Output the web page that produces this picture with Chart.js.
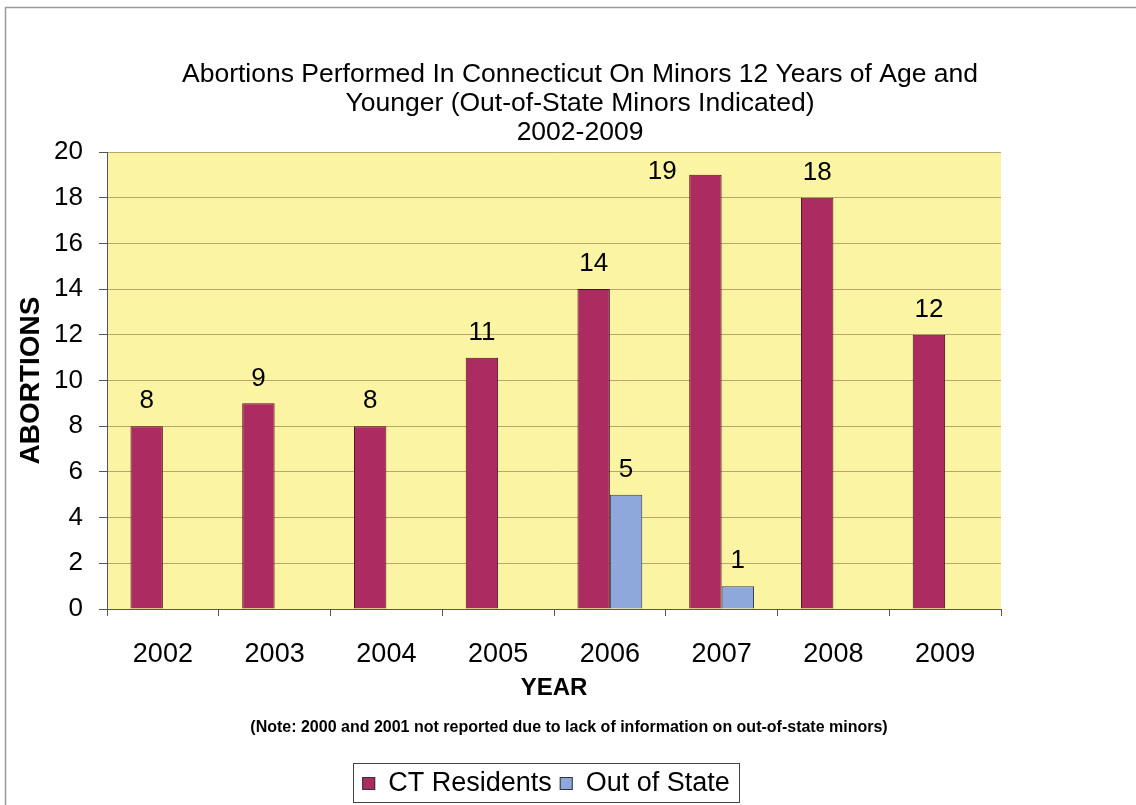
<!DOCTYPE html>
<html>
<head>
<meta charset="utf-8">
<script src="https://cdn.jsdelivr.net/npm/chart.js@4.4.0/dist/chart.umd.min.js"></script>
<style>
  html, body { margin: 0; padding: 0; background: #fff; }
  #wrap { width: 1136px; height: 805px; position: relative; }
</style>
</head>
<body>
<div id="wrap"><canvas id="chart" width="1136" height="805"></canvas></div>
<script>
const years = ["2002", "2003", "2004", "2005", "2006", "2007", "2008", "2009"];
const ctResidents = [8, 9, 8, 11, 14, 19, 18, 12];
const outOfState = [0, 0, 0, 0, 5, 1, 0, 0];
const seriesNames = ["CT Residents", "Out of State"];
const titleLines = [
  "Abortions Performed In Connecticut On Minors 12 Years of Age and",
  "Younger (Out-of-State Minors Indicated)",
  "2002-2009"
];
const noteText = "(Note: 2000 and 2001 not reported due to lack of information on out-of-state minors)";

const FONT = "'Liberation Sans', Arial, Helvetica, sans-serif";
const maroon = "#AC2B60";
const blue = "#8EA8DC";

const decor = {
  id: "decor",
  beforeDraw(chart) {
    const { ctx, chartArea: a } = chart;
    ctx.save();
    ctx.fillStyle = "#FBF4A2";
    ctx.fillRect(a.left, a.top, a.right - a.left, a.bottom - a.top);
    ctx.restore();
  },
  afterDatasetsDraw(chart) {
    const ctx = chart.ctx;
    const top = chart.chartArea.top;
    ctx.save();
    ctx.font = "26px " + FONT;
    ctx.fillStyle = "#000";
    ctx.textAlign = "center";
    ctx.textBaseline = "middle";
    chart.data.datasets.forEach((ds, i) => {
      chart.getDatasetMeta(i).data.forEach((bar, j) => {
        if (!(ds.data[j] > 0)) return;
        let lx = bar.x, ly = bar.y - 25;
        // no room above the bar: put the label beside it, like the original
        if (ly < top + 12) { ly = top + 20; lx = bar.x - bar.width / 2 - 27; }
        ctx.fillText(String(ds.data[j]), lx, ly);
      });
    });
    ctx.restore();
  },
  afterDraw(chart) {
    const ctx = chart.ctx;
    ctx.save();
    // outer frame
    ctx.strokeStyle = "#9a9a9a";
    ctx.lineWidth = 1.5;
    ctx.beginPath();
    ctx.moveTo(5.5, 805);
    ctx.lineTo(5.5, 7.5);
    ctx.lineTo(1136, 7.5);
    ctx.stroke();

    // title
    ctx.fillStyle = "#000";
    ctx.textAlign = "center";
    ctx.textBaseline = "middle";
    ctx.font = "26.5px " + FONT;
    titleLines.forEach((t, i) => ctx.fillText(t, 580, 75 + i * 29));

    // note
    ctx.font = "bold 16px " + FONT;
    ctx.fillText(noteText, 569, 728);

    // legend
    ctx.font = "27px " + FONT;
    const colors = [maroon, blue];
    const sq = 13, gap = 13, itemGap = 8, padX = 9;
    let total = padX * 2;
    seriesNames.forEach((n, i) => {
      total += sq + gap + ctx.measureText(n).width + (i ? 0 : itemGap);
    });
    let x = 546 - total / 2;
    const top = 763, h = 39, cy = top + h / 2 + 1;
    ctx.strokeStyle = "#444";
    ctx.lineWidth = 1;
    ctx.strokeRect(Math.round(x) + 0.5, top + 0.5, Math.round(total), h);
    x += padX;
    ctx.textAlign = "left";
    seriesNames.forEach((n, i) => {
      ctx.fillStyle = colors[i];
      ctx.fillRect(x, cy - sq / 2, sq, sq);
      ctx.strokeStyle = "#333";
      ctx.strokeRect(x + 0.5, cy - sq / 2 + 0.5, sq - 1, sq - 1);
      x += sq + gap;
      ctx.fillStyle = "#000";
      ctx.fillText(n, x, cy);
      x += ctx.measureText(n).width + itemGap;
    });
    ctx.restore();
  }
};

new Chart(document.getElementById("chart"), {
  type: "bar",
  data: {
    labels: years,
    datasets: [
      { label: seriesNames[0], data: ctResidents, backgroundColor: maroon, borderColor: "#4a1028", borderWidth: 1 },
      { label: seriesNames[1], data: outOfState, backgroundColor: blue, borderColor: "#2f3a55", borderWidth: 1 }
    ]
  },
  options: {
    responsive: false,
    animation: false,
    layout: { padding: { top: 152, left: 7, right: 135, bottom: 0 } },
    categoryPercentage: 0.58,
    barPercentage: 1.0,
    plugins: {
      legend: { display: false },
      title: { display: false },
      tooltip: { enabled: false }
    },
    scales: {
      x: {
        afterFit(scale) { scale.height = 196; },
        grid: { drawOnChartArea: false, color: "#555", tickLength: 7 },
        border: { color: "#555" },
        ticks: { color: "#000", font: { family: FONT, size: 27 }, padding: 22 },
        title: {
          display: true, text: "YEAR", color: "#000",
          font: { family: FONT, size: 24, weight: "bold" },
          padding: { top: 0, bottom: 102 }
        }
      },
      y: {
        min: 0, max: 20,
        afterFit(scale) { scale.width = 100; },
        grid: { color: "#B8A66C", tickColor: "#555", tickLength: 8 },
        border: { color: "#555" },
        ticks: { stepSize: 2, color: "#000", font: { family: FONT, size: 26 }, padding: 16 },
        title: {
          display: true, text: "ABORTIONS", color: "#000",
          font: { family: FONT, size: 28, weight: "bold" },
          padding: { top: 7, bottom: 0 }
        }
      }
    }
  },
  plugins: [decor]
});
</script>
</body>
</html>
